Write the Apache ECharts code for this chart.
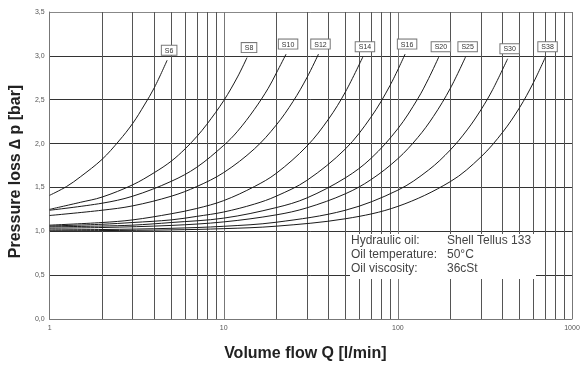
<!DOCTYPE html>
<html>
<head>
<meta charset="utf-8">
<script src="https://cdn.jsdelivr.net/npm/echarts@6/dist/echarts.min.js"></script>
<style>
  html, body { margin: 0; padding: 0; background: #fff; }
  #chart { width: 588px; height: 367px; }
</style>
</head>
<body>
<div id="chart"></div>
<script>
// Valve types, one curve each
const valveNames = ['S6', 'S8', 'S10', 'S12', 'S14', 'S16', 'S20', 'S25', 'S30', 'S38'];

// Volume flow Q [l/min] and pressure loss [bar] along each curve
const q_S6  = [1, 1.25, 1.5, 2, 2.5, 3, 3.5, 4, 4.73];
const dp_S6 = [1.41, 1.51, 1.62, 1.82, 2.03, 2.23, 2.44, 2.64, 2.95];

const q_S8  = [1, 1.5, 2, 3, 4, 5, 6, 7, 8, 10, 12, 13.6];
const dp_S8 = [1.25, 1.33, 1.39, 1.53, 1.67, 1.80, 1.94, 2.08, 2.22, 2.49, 2.76, 2.98];

const q_S10  = [1, 2, 3, 5, 7, 10, 12, 15, 18, 20, 22.8];
const dp_S10 = [1.24, 1.32, 1.40, 1.57, 1.73, 1.98, 2.14, 2.39, 2.63, 2.80, 3.02];

const q_S12  = [1, 2, 3, 5, 7, 10, 15, 20, 25, 30, 35];
const dp_S12 = [1.18, 1.24, 1.29, 1.40, 1.51, 1.67, 1.94, 2.21, 2.48, 2.75, 3.02];

const q_S14  = [1, 2, 3, 5, 7, 10, 15, 20, 30, 40, 50, 63];
const dp_S14 = [1.07, 1.10, 1.13, 1.20, 1.26, 1.35, 1.51, 1.66, 1.97, 2.28, 2.59, 2.99];

const q_S16  = [1, 2, 3, 5, 7, 10, 15, 20, 30, 50, 70, 90, 110];
const dp_S16 = [1.06, 1.08, 1.10, 1.13, 1.17, 1.22, 1.31, 1.40, 1.58, 1.94, 2.30, 2.66, 3.02];

const q_S20  = [1, 2, 3, 5, 10, 20, 30, 50, 70, 100, 130, 150, 172];
const dp_S20 = [1.05, 1.06, 1.07, 1.10, 1.15, 1.27, 1.38, 1.61, 1.83, 2.17, 2.51, 2.74, 2.99];

const q_S25  = [1, 2, 5, 10, 20, 30, 50, 70, 100, 130, 160, 200, 245];
const dp_S25 = [1.035, 1.043, 1.067, 1.107, 1.187, 1.267, 1.428, 1.588, 1.828, 2.068, 2.309, 2.629, 2.99];

const q_S30  = [1, 2, 5, 10, 20, 50, 100, 150, 200, 250, 300, 350, 427];
const dp_S30 = [1.016, 1.020, 1.034, 1.057, 1.103, 1.240, 1.469, 1.698, 1.927, 2.156, 2.385, 2.614, 2.967];

const q_S38  = [1, 2, 5, 10, 20, 50, 100, 200, 300, 400, 500, 600, 705];
const dp_S38 = [1.005, 1.008, 1.016, 1.030, 1.058, 1.143, 1.284, 1.566, 1.848, 2.13, 2.41, 2.694, 2.99];

const curveFlows = [q_S6, q_S8, q_S10, q_S12, q_S14, q_S16, q_S20, q_S25, q_S30, q_S38];
const curvePressures = [dp_S6, dp_S8, dp_S10, dp_S12, dp_S14, dp_S16, dp_S20, dp_S25, dp_S30, dp_S38];

// Intermediate vertical grid lines of the logarithmic flow axis
const minorFlows = [2, 3, 4, 5, 6, 7, 8, 9,
                    20, 30, 40, 50, 60, 70, 80, 90,
                    200, 300, 400, 500, 600, 700, 800, 900];

// Operating conditions note
const noteKeys = ['Hydraulic oil:', 'Oil temperature:', 'Oil viscosity:'];
const noteValues = ['Shell Tellus 133', '50°C', '36cSt'];

const chart = echarts.init(document.getElementById('chart'), null, { renderer: 'canvas' });

const labelFont = 'Liberation Sans, Arial, Helvetica, sans-serif';

const curveSeries = valveNames.map((name, k) => {
  const q = curveFlows[k];
  const dp = curvePressures[k];
  const last = q.length - 1;
  return {
    name: name,
    type: 'line',
    z: 5,
    showSymbol: false,
    symbol: 'none',
    smooth: 0.35,
    lineStyle: { color: '#1a1a1a', width: 1 },
    data: q.map((x, i) => [x, dp[i]]),
    // type tag above the end of the curve
    markPoint: {
      silent: true,
      symbol: 'circle',
      symbolSize: 1,
      itemStyle: { color: 'rgba(0,0,0,0)' },
      label: {
        show: true,
        position: 'top',
        distance: 5,
        formatter: name,
        fontFamily: labelFont,
        fontSize: 7,
        lineHeight: 8,
        color: '#333',
        backgroundColor: '#fff',
        borderColor: '#777',
        borderWidth: 1,
        padding: [1, 3, 0, 3],
        offset: [2, 0]
      },
      data: [{ coord: [q[last], dp[last]] }]
    }
  };
});

const option = {
  backgroundColor: '#fff',
  animation: false,
  grid: { left: 49, right: 16, top: 12, bottom: 45 },
  xAxis: {
    type: 'log',
    logBase: 10,
    min: 1,
    max: 1000,
    name: 'Volume flow Q [l/min]',
    nameLocation: 'middle',
    nameGap: 27,
    nameTextStyle: {
      fontFamily: labelFont, fontWeight: 'bold', fontSize: 16, color: '#222',
      padding: [0, 11, 0, 0]
    },
    axisLine: { show: true, lineStyle: { color: '#777', width: 1 } },
    axisTick: { show: false },
    axisLabel: {
      fontFamily: labelFont, fontSize: 7, color: '#555', margin: 6,
      formatter: v => String(Math.round(v))
    },
    splitLine: { show: true, lineStyle: { color: '#777', width: 1 } }
  },
  yAxis: {
    type: 'value',
    min: 0,
    max: 3.5,
    interval: 0.5,
    name: 'Pressure loss \u2206 p [bar]',
    nameLocation: 'middle',
    nameGap: 22,
    nameTextStyle: {
      fontFamily: labelFont, fontWeight: 'bold', fontSize: 16, color: '#222',
      padding: [0, 12, 0, 0]
    },
    axisLine: { show: true, lineStyle: { color: '#777', width: 1 } },
    axisTick: { show: false },
    axisLabel: {
      fontFamily: labelFont, fontSize: 7, color: '#555', margin: 5,
      formatter: v => v.toFixed(1).replace('.', ',')
    },
    splitLine: {
      show: true,
      lineStyle: { color: ['#333', '#333', '#333', '#333', '#333', '#333', '#333', '#888'], width: 1 }
    }
  },
  series: [
    {
      name: 'grid',
      type: 'line',
      z: 1,
      data: [],
      markLine: {
        silent: true,
        symbol: 'none',
        animation: false,
        label: { show: false },
        lineStyle: { color: '#555', type: 'solid', width: 1 },
        data: minorFlows.map(v => ({ xAxis: v }))
      }
    }
  ].concat(curveSeries),
  graphic: [
    {
      type: 'group',
      left: 350,
      top: 234,
      z: 50,
      children: [
        { type: 'rect', shape: { x: 0, y: 0, width: 186, height: 45 }, style: { fill: '#fff' }, z: 50 }
      ].concat(noteKeys.map((t, i) => ({
        type: 'text', x: 1, y: 1 + i * 14, z: 51,
        style: { text: t, fontFamily: labelFont, fontSize: 12, fill: '#444' }
      }))).concat(noteValues.map((t, i) => ({
        type: 'text', x: 97, y: 1 + i * 14, z: 51,
        style: { text: t, fontFamily: labelFont, fontSize: 12, fill: '#444' }
      })))
    }
  ]
};

chart.setOption(option);
</script>
</body>
</html>
